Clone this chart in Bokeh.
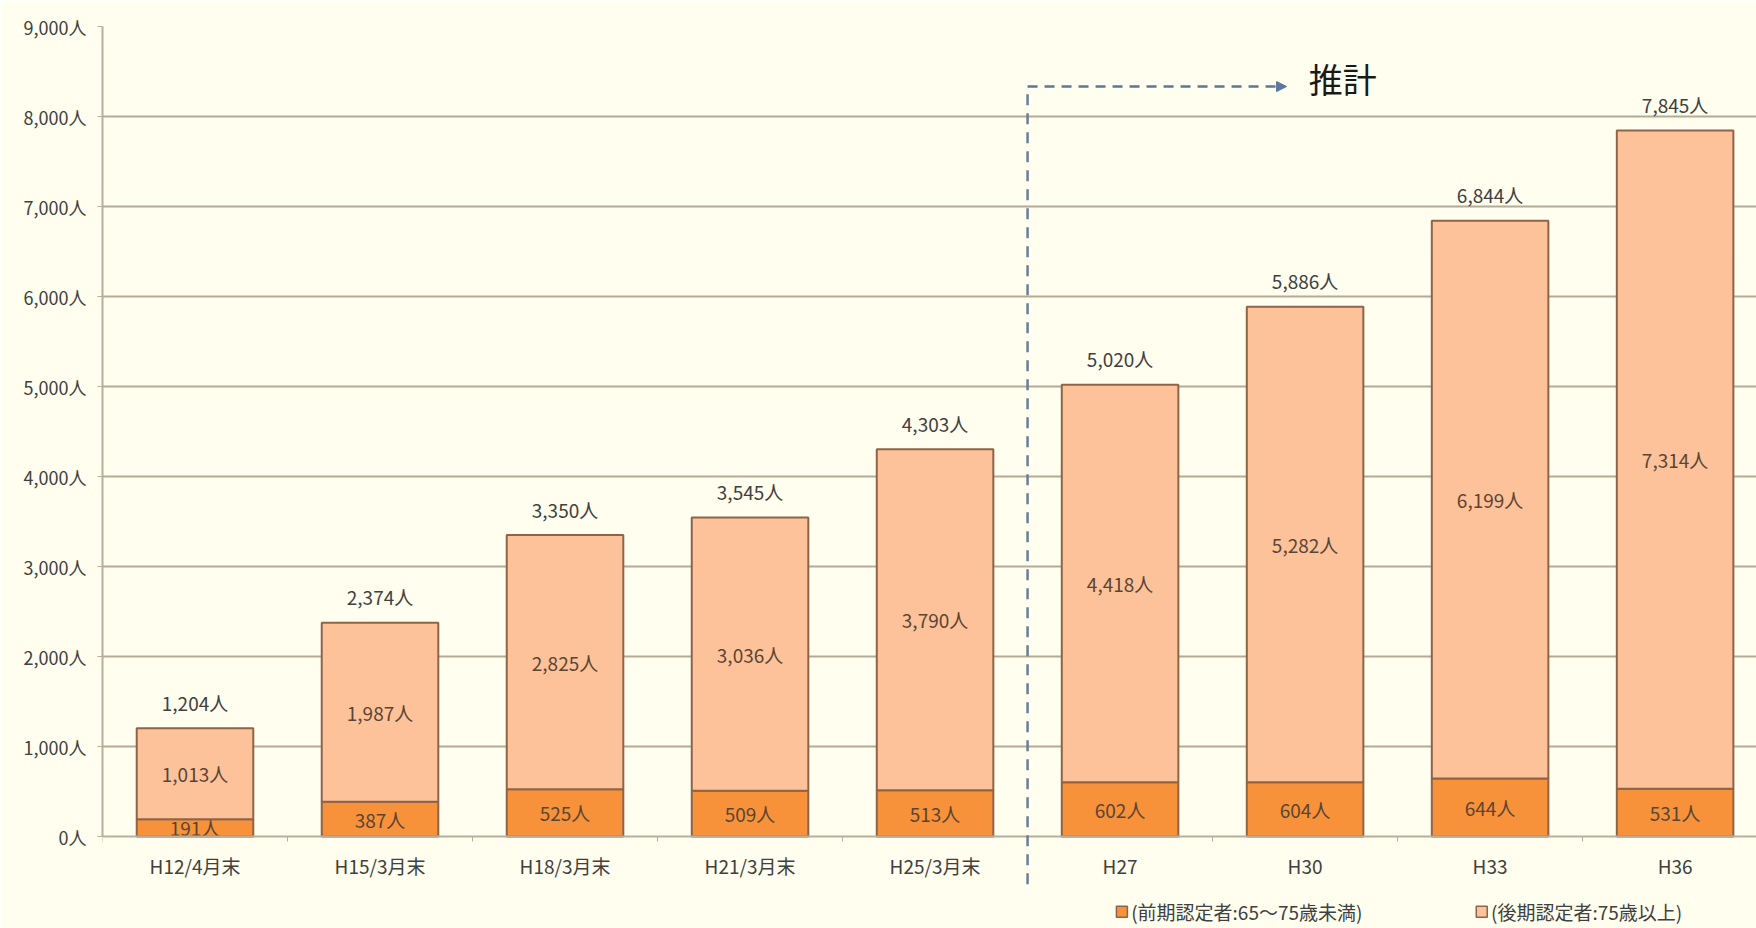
from bokeh.plotting import figure
from bokeh.models import FixedTicker, Label, Arrow, NormalHead, ColumnDataSource
from bokeh.core.properties import value
from bokeh.embed import file_html
from bokeh.resources import INLINE

categories = ["H12/4月末", "H15/3月末", "H18/3月末", "H21/3月末", "H25/3月末", "H27", "H30", "H33", "H36"]
early = [191, 387, 525, 509, 513, 602, 604, 644, 531]
late = [1013, 1987, 2825, 3036, 3790, 4418, 5282, 6199, 7314]
totals = [1204, 2374, 3350, 3545, 4303, 5020, 5886, 6844, 7845]
y_ticks = [0, 1000, 2000, 3000, 4000, 5000, 6000, 7000, 8000, 9000]
legend_labels = ["(前期認定者:65～75歳未満)", "(後期認定者:75歳以上)"]
estimate_label = "推計"

FONT = "Noto Sans CJK JP"
TXT = "#404040"
IN_TXT = "#5A4535"
BG = "#FFFEEF"
C_LOW = "#F8923A"
C_HIGH = "#FEC29A"
EDGE = "#8E6448"
AX = "#B8AE9C"

xs = list(range(len(categories)))
late_top = [e + l for e, l in zip(early, late)]

src = ColumnDataSource(dict(
    x=xs, early=early, late=late, total=totals, late_top=late_top,
    early_mid=[e / 2 for e in early],
    late_mid=[(e + t) / 2 for e, t in zip(early, late_top)],
    early_lbl=[f"{v:,}人" for v in early],
    late_lbl=[f"{v:,}人" for v in late],
    total_lbl=[f"{v:,}人" for v in totals],
))

p = figure(width=1756, height=928, output_backend="svg", toolbar_location=None,
           x_range=(-0.5, 8.44), y_range=(-1022, 9000),
           min_border_left=102, min_border_right=0, min_border_top=26, min_border_bottom=0)
p.background_fill_color = BG
p.border_fill_color = BG
p.outline_line_color = None

p.vbar(x="x", bottom=0, top="early", width=0.63, source=src,
       fill_color=C_LOW, line_color=EDGE, line_width=2)
p.vbar(x="x", bottom="early", top="late_top", width=0.63, source=src,
       fill_color=C_HIGH, line_color=EDGE, line_width=2)

common = dict(text_font=value(FONT), text_font_size="19px",
              text_align="center", text_baseline="middle")
p.text(x="x", y="early_mid", text="early_lbl", source=src, text_color=IN_TXT, **common)
p.text(x="x", y="late_mid", text="late_lbl", source=src, text_color=IN_TXT, **common)
p.text(x="x", y="total", text="total_lbl", source=src, y_offset=-26, text_color=TXT, **common)

# axes
p.yaxis.ticker = FixedTicker(ticks=y_ticks)
p.yaxis.bounds = (0, 9000)
p.yaxis.major_label_overrides = {t: f"{t:,}人" for t in y_ticks}
p.yaxis.major_label_text_font = FONT
p.yaxis.major_label_text_font_size = "18px"
p.yaxis.major_label_text_color = TXT
p.yaxis.axis_line_color = AX
p.yaxis.axis_line_width = 2
p.yaxis.major_tick_line_color = AX
p.yaxis.major_tick_out = 5
p.yaxis.major_tick_in = 0
p.yaxis.minor_tick_line_color = None
p.yaxis.major_label_standoff = 11

p.xaxis.fixed_location = 0
p.xaxis.ticker = FixedTicker(ticks=xs, minor_ticks=[i - 0.5 for i in range(len(categories) + 1)])
p.xaxis.major_label_overrides = {i: c for i, c in enumerate(categories)}
p.xaxis.major_label_text_font = FONT
p.xaxis.major_label_text_font_size = "19px"
p.xaxis.major_label_text_color = TXT
p.xaxis.axis_line_color = AX
p.xaxis.axis_line_width = 2
p.xaxis.major_tick_line_color = None
p.xaxis.minor_tick_line_color = AX
p.xaxis.minor_tick_out = 5
p.xaxis.minor_tick_in = 0
p.xaxis.major_label_standoff = 9

p.xgrid.grid_line_color = None
p.ygrid.ticker = FixedTicker(ticks=y_ticks[1:])
p.ygrid.grid_line_color = "#B5AA95"
p.ygrid.grid_line_width = 2

# estimate marker
DASH = "#5877A3"
p.add_layout(Arrow(end=None, x_start=4.5, y_start=-530, x_end=4.5, y_end=8333,
                   line_color="#6A7E9A", line_width=2.5, line_dash="11 8"))
p.add_layout(Arrow(end=NormalHead(size=10, fill_color=DASH, line_color=DASH),
                   x_start=4.5, y_start=8333, x_end=5.9, y_end=8333,
                   line_color=DASH, line_width=2.5, line_dash="10 7"))
p.add_layout(Label(x=6.02, y=8420, text=estimate_label, text_font=FONT,
                   text_font_size="34px", text_color="#1A1A1A", text_baseline="middle"))

# legend
LY = -835
p.rect(x=[5.01, 6.955], y=[LY, LY], width=11, height=11, width_units="screen",
       height_units="screen", fill_color=[C_LOW, C_HIGH], line_color=EDGE, line_width=1.5)
p.add_layout(Label(x=5.06, y=LY, text=legend_labels[0], text_font=FONT, text_font_size="19px",
                   text_color=TXT, text_baseline="middle"))
p.add_layout(Label(x=7.005, y=LY, text=legend_labels[1], text_font=FONT, text_font_size="19px",
                   text_color=TXT, text_baseline="middle"))

open("out.html", "w").write(file_html(p, INLINE))
